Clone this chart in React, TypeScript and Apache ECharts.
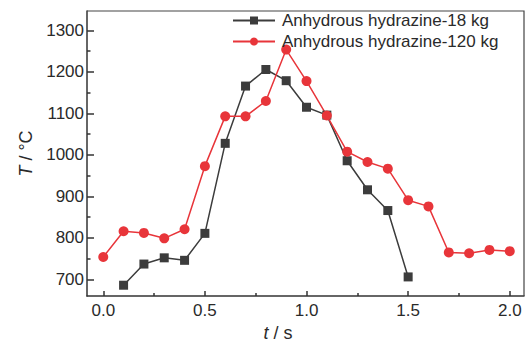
import React, { useEffect, useRef } from "react";
import * as echarts from "echarts";

const times18 = [0.1, 0.2, 0.3, 0.4, 0.5, 0.6, 0.7, 0.8, 0.9, 1.0, 1.1, 1.2, 1.3, 1.4, 1.5];
const temps18 = [686, 737, 752, 746, 811, 1028, 1166, 1206, 1179, 1115, 1096, 986, 916, 866, 706];
const times120 = [0.0, 0.1, 0.2, 0.3, 0.4, 0.5, 0.6, 0.7, 0.8, 0.9, 1.0, 1.1, 1.2, 1.3, 1.4, 1.5, 1.6, 1.7, 1.8, 1.9, 2.0];
const temps120 = [754, 816, 812, 799, 821, 973, 1093, 1093, 1130, 1254, 1178, 1095, 1008, 983, 967, 891, 876, 765, 763, 771, 768];
const xMajor = [0, 0.5, 1.0, 1.5, 2.0];
const xMinor = [0.25, 0.75, 1.25, 1.75];
const yMajor = [700, 800, 900, 1000, 1100, 1200, 1300];
const yMinor = [650, 750, 850, 950, 1050, 1150, 1250];
const seriesNames = ["Anhydrous hydrazine-18 kg", "Anhydrous hydrazine-120 kg"];

const FONT = "'Liberation Sans Narrow', 'Liberation Sans', Arial, sans-serif";
const AXIS_COLOR = "#333";
const TEXT_COLOR = "#2a2a2a";
const X_MIN = -0.08, X_MAX = 2.07, Y_MIN = 660, Y_MAX = 1347;
const W = 527, H = 342;
const G_LEFT = 87, G_RIGHT = 3, G_TOP = 11, G_BOTTOM = 46;

export default function App() {
  const ref = useRef<HTMLDivElement>(null);
  useEffect(() => {
    if (!ref.current) return;
    const chart = echarts.init(ref.current, undefined, { renderer: "svg" });
    const axisLine = { show: true, onZero: false, lineStyle: { color: AXIS_COLOR, width: 1.5 } };
    const noLine = { show: false, onZero: false };
    const tickStyle = { color: AXIS_COLOR, width: 1.5 };
    const gridBox = { left: G_LEFT, right: G_RIGHT, top: G_TOP, bottom: G_BOTTOM, containLabel: false, outerBoundsMode: "none" };
    const xR = W - G_RIGHT, yB = H - G_BOTTOM;
    chart.setOption({
      animation: false,
      grid: [gridBox, { ...gridBox }],
      graphic: {
        elements: [
          {
            type: "polyline",
            silent: true,
            z: 100,
            shape: { points: [[G_LEFT, G_TOP], [xR, G_TOP], [xR, yB]] },
            style: { stroke: "#444", lineWidth: 1.2, fill: null },
          },
        ],
      },
      legend: {
        orient: "vertical",
        left: 232,
        top: 12,
        padding: 0,
        itemWidth: 42,
        itemHeight: 10,
        itemGap: 4,
        data: seriesNames,
        textStyle: { fontFamily: FONT, fontSize: 17, lineHeight: 16, color: TEXT_COLOR, padding: [0, 0, 0, 2] },
      },
      xAxis: [
        {
          type: "value", gridIndex: 0, min: X_MIN, max: X_MAX,
          axisLine, splitLine: { show: false },
          axisTick: { show: true, inside: true, length: 5, customValues: xMajor, lineStyle: tickStyle },
          axisLabel: { customValues: xMajor, formatter: (v: number) => v.toFixed(1), fontFamily: FONT, fontSize: 17, color: TEXT_COLOR, margin: 6 },
          name: "{i|t} / s",
          nameLocation: "middle",
          nameGap: 27,
          nameTextStyle: { fontFamily: FONT, fontSize: 18, color: TEXT_COLOR, padding: [0, 55, 0, 0], verticalAlign: "top",
            rich: { i: { fontStyle: "italic", fontFamily: FONT, fontSize: 18, color: TEXT_COLOR } } },
        },
        {
          type: "value", gridIndex: 1, min: X_MIN, max: X_MAX, position: "bottom",
          axisLine: noLine, splitLine: { show: false },
          axisTick: { show: true, inside: true, length: 3, customValues: xMinor, lineStyle: tickStyle },
          axisLabel: { show: false },
        },
      ],
      yAxis: [
        {
          type: "value", gridIndex: 0, min: Y_MIN, max: Y_MAX,
          axisLine, splitLine: { show: false },
          axisTick: { show: true, inside: true, length: 7, customValues: yMajor, lineStyle: tickStyle },
          axisLabel: { customValues: yMajor, formatter: (v: number) => String(v), fontFamily: FONT, fontSize: 17, color: TEXT_COLOR, margin: 3 },
          name: "{i|T} / °C",
          nameLocation: "middle",
          nameGap: 47,
          nameRotate: 90,
          nameTextStyle: { fontFamily: FONT, fontSize: 18, color: TEXT_COLOR,
            rich: { i: { fontStyle: "italic", fontFamily: FONT, fontSize: 18, color: TEXT_COLOR } } },
        },
        {
          type: "value", gridIndex: 1, min: Y_MIN, max: Y_MAX, position: "left",
          axisLine: noLine, splitLine: { show: false },
          axisTick: { show: true, inside: true, length: 3.5, customValues: yMinor, lineStyle: tickStyle },
          axisLabel: { show: false },
        },
      ],
      series: [
        {
          name: seriesNames[0], type: "line", xAxisIndex: 0, yAxisIndex: 0,
          data: times18.map((t, i) => [t, temps18[i]]),
          symbol: "rect", symbolSize: 9,
          lineStyle: { color: "#3c3c3c", width: 1.5 },
          itemStyle: { color: "#3c3c3c" },
        },
        {
          name: seriesNames[1], type: "line", xAxisIndex: 0, yAxisIndex: 0,
          data: times120.map((t, i) => [t, temps120[i]]),
          symbol: "circle", symbolSize: 10,
          lineStyle: { color: "#e8353a", width: 1.5 },
          itemStyle: { color: "#e8353a" },
        },
      ],
    });
    return () => chart.dispose();
  }, []);
  return <div ref={ref} style={{ width: W, height: H, position: "absolute", left: 0, top: 0 }} />;
}
